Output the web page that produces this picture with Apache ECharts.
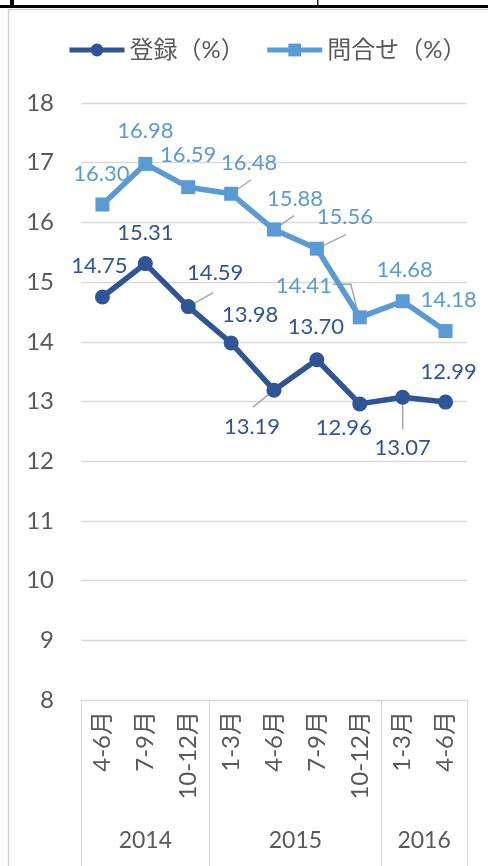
<!DOCTYPE html>
<html>
<head>
<meta charset="utf-8">
<script src="https://cdn.jsdelivr.net/npm/echarts@6/dist/echarts.min.js"></script>
<style>
  html, body { margin: 0; padding: 0; background: #ffffff; }
  #chart { width: 488px; height: 866px; }
</style>
</head>
<body>
<div id="chart"></div>
<script>
// Quarterly rates, Apr 2014 – Jun 2016
const quarters = ['4-6月', '7-9月', '10-12月', '1-3月', '4-6月', '7-9月', '10-12月', '1-3月', '4-6月'];
const years = ['2014', '2015', '2016'];
const quartersPerYear = [3, 4, 2];
const registration = [14.75, 15.31, 14.59, 13.98, 13.19, 13.70, 12.96, 13.07, 12.99];
const inquiries = [16.30, 16.98, 16.59, 16.48, 15.88, 15.56, 14.41, 14.68, 14.18];
const seriesNames = ['登録（%）', '問合せ（%）'];
const yMin = 8, yMax = 18, yStep = 1;

// Label placement (dx, dy from the marker centre)
const labelShift = [
  [[-3, -31], [0, -31], [27, -34], [19, -28], [-22, 37], [-1, -33], [-16, 24], [0, 51], [3, -30]],
  [[-1, -31], [0, -33], [0, -32], [18, -31], [21, -31], [28, -32], [-56, -31], [2, -31], [3, -31]]
];
// Leader-line paths (pixel offsets from the marker centre), keyed by data index
const leaderPaths = [
  { 2: [[0, 0], [25, -14]], 4: [[0, 0], [-21, 17]], 7: [[0, 0], [0, 32]] },
  { 3: [[0, 0], [20, -14]], 4: [[0, 0], [20, -14]], 5: [[0, 0], [29, -14]], 6: [[-27, -33], [-9, -33], [-1, -2]] }
];

const FONT = "Lato, 'Noto Sans CJK JP', sans-serif";
const TEXT = '#595959';
const GRID = '#D9D9D9';
const DARK = '#2F5597';
const LIGHT = '#5B9BD5';

// Year group boundaries and centres on a 0..N scale shared with the quarter bands
const bounds = [0];
quartersPerYear.forEach(n => bounds.push(bounds[bounds.length - 1] + n));
const centres = quartersPerYear.map((n, i) => bounds[i] + n / 2);

function lineSeries(name, values, s, color, symbol, size, width) {
  return {
    name: name,
    type: 'line',
    data: values,
    symbol: symbol,
    symbolSize: size,
    showAllSymbol: true,
    itemStyle: { color: color },
    lineStyle: { color: color, width: width },
    label: {
      show: true,
      position: 'inside',
      color: color,
      fontFamily: FONT,
      fontSize: 22,
      formatter: p => p.value.toFixed(2)
    },
    labelLayout: p => {
      const d = labelShift[s][p.dataIndex];
      return { dx: d[0], dy: d[1] };
    },
    z: 3 + s
  };
}

const frame = [
  { id: 'f1', type: 'rect', silent: true, shape: { x: 0, y: 5, width: 488, height: 3 }, style: { fill: '#000' } },
  { id: 'f2', type: 'rect', silent: true, shape: { x: 10, y: 0, width: 4, height: 5 }, style: { fill: '#000' } },
  { id: 'f3', type: 'rect', silent: true, shape: { x: 317, y: 0, width: 1.5, height: 5 }, style: { fill: '#222' } },
  { id: 'f4', type: 'line', silent: true, shape: { x1: 8.5, y1: 9, x2: 8.5, y2: 866 }, style: { stroke: '#D0D0D0', lineWidth: 1.3 } },
  { id: 'f5', type: 'line', silent: true, shape: { x1: 8, y1: 9.5, x2: 488, y2: 9.5 }, style: { stroke: '#D0D0D0', lineWidth: 1.3 } }
];

const chart = echarts.init(document.getElementById('chart'), null, { renderer: 'canvas' });
chart.setOption({
  backgroundColor: '#ffffff',
  animation: false,
  textStyle: { fontFamily: FONT },
  legend: {
    left: 62,
    top: 33,
    itemWidth: 55,
    itemHeight: 16,
    itemGap: 20,
    lineStyle: { width: 5 },
    textStyle: { color: TEXT, fontSize: 24, fontFamily: FONT }
  },
  grid: { left: 81, right: 21, top: 103, bottom: 166, containLabel: false },
  xAxis: [
    {
      type: 'category',
      data: quarters,
      boundaryGap: true,
      axisLine: { show: true, lineStyle: { color: GRID, width: 1 } },
      axisTick: { show: false },
      axisLabel: {
        rotate: 90,
        margin: 11,
        color: TEXT,
        fontSize: 24,
        fontFamily: FONT,
        interval: 0
      },
      splitLine: { show: false }
    },
    {
      type: 'value',
      position: 'bottom',
      offset: 166,
      min: 0,
      max: bounds[bounds.length - 1],
      axisLine: { show: false },
      axisTick: {
        show: true,
        inside: true,
        length: 166,
        customValues: bounds,
        lineStyle: { color: GRID, width: 1 }
      },
      axisLabel: {
        show: true,
        inside: true,
        margin: 14,
        customValues: centres,
        color: TEXT,
        fontSize: 23,
        fontFamily: FONT,
        formatter: v => {
          const i = centres.indexOf(v);
          return i >= 0 ? years[i] : '';
        }
      },
      splitLine: { show: false }
    }
  ],
  yAxis: {
    type: 'value',
    min: yMin,
    max: yMax,
    interval: yStep,
    axisLine: { show: false },
    axisTick: { show: false },
    axisLabel: { color: TEXT, fontSize: 24, fontFamily: FONT, margin: 27 },
    splitLine: { lineStyle: { color: GRID, width: 1.3 } }
  },
  series: [
    lineSeries(seriesNames[0], registration, 0, DARK, 'circle', 15, 5.5),
    lineSeries(seriesNames[1], inquiries, 1, LIGHT, 'rect', 14, 5.5)
  ],
  graphic: frame
});

// Leader lines anchored at the data points through the chart's own scales
const leaders = [];
[registration, inquiries].forEach((values, s) => {
  Object.keys(leaderPaths[s]).forEach(k => {
    const i = Number(k);
    const c = chart.convertToPixel({ xAxisIndex: 0, yAxisIndex: 0 }, [i, values[i]]);
    leaders.push({
      id: 'leader' + s + '_' + i,
      type: 'polyline',
      silent: true,
      z: 1,
      shape: { points: leaderPaths[s][i].map(p => [c[0] + p[0], c[1] + p[1]]) },
      style: { stroke: '#A6A6A6', lineWidth: 1.5, fill: null }
    });
  });
});
chart.setOption({ graphic: frame.concat(leaders) });
</script>
</body>
</html>
